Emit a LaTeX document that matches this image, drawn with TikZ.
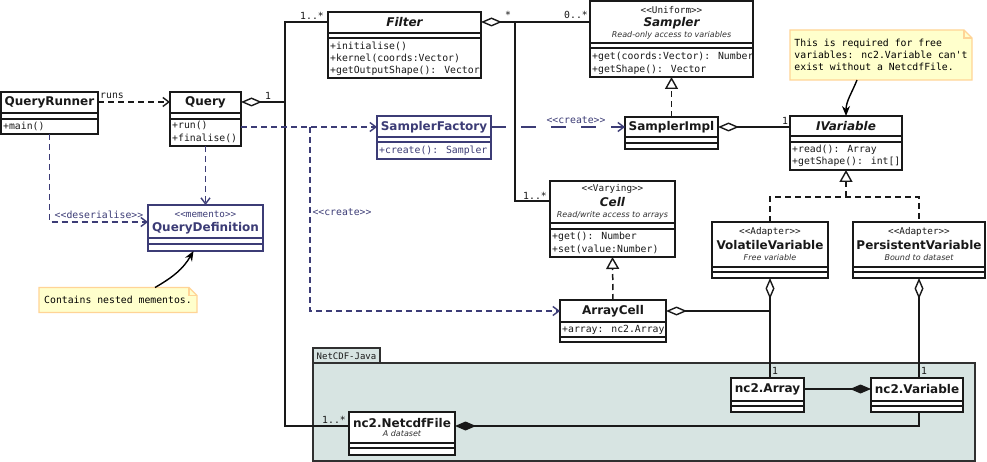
\documentclass[tikz,border=0pt]{standalone}
\usepackage{fontspec}
\setmainfont{DejaVu Sans}
\newfontfamily\monofam{DejaVu Sans Mono}
\usetikzlibrary{arrows.meta,backgrounds,calc}

\definecolor{ink}{RGB}{25,25,25}
\definecolor{umlblue}{RGB}{60,60,118}
\definecolor{notefill}{RGB}{255,255,204}
\definecolor{notedraw}{RGB}{255,212,150}
\definecolor{pkgfill}{RGB}{215,228,226}

\tikzset{
  box/.style={draw=ink, line width=1.5pt, fill=white, inner sep=0pt, outer sep=0pt},
  bbox/.style={box, draw=umlblue},
  sep/.style={draw=ink, line width=1.1pt},
  bsep/.style={draw=umlblue, line width=1.1pt},
  cname/.style={font=\bfseries\fontsize{12}{14}\selectfont, inner sep=0pt, text=ink},
  aname/.style={font=\bfseries\itshape\fontsize{12}{14}\selectfont, inner sep=0pt, text=ink},
  stereo/.style={font=\monofam\fontsize{9.3}{11}\selectfont, inner sep=0pt, text=ink},
  desc/.style={font=\itshape\fontsize{8}{10}\selectfont, inner sep=0pt, text=ink!90},
  member/.style={font=\monofam\fontsize{9.8}{11}\selectfont, inner sep=0pt, anchor=west, text=ink},
  mult/.style={font=\monofam\fontsize{9.8}{11}\selectfont, inner sep=0pt, text=ink},
  assoc/.style={draw=ink, line width=1.5pt},
  aggr/.style={assoc, {Diamond[open, fill=white, length=21pt, width=9pt, line width=1.4pt]}-},
  compos/.style={assoc, -{Diamond[length=21pt, width=9pt]}},
  dep/.style={draw=ink, line width=1.5pt, dash pattern=on 6pt off 4pt,
    -{Straight Barb[length=6pt, width=9pt, line width=1.4pt]}},
  bdep/.style={dep, draw=umlblue},
  bdeplong/.style={bdep, dash pattern=on 15pt off 15pt},
  realline/.style={draw=ink, line width=1.5pt, dash pattern=on 6pt off 4pt},
  real/.style={realline, -{Triangle[open, fill=white, length=12pt, width=13pt, line width=1.4pt]}},
  notebox/.style={inner sep=0pt, outer sep=0pt, align=left,
    font=\monofam\fontsize{9.8}{12.3}\selectfont, text=black},
  noteshape/.style={fill=notefill, draw=notedraw, line width=1.2pt},
  notearrow/.style={draw=black, line width=1.4pt, -{Stealth[length=10pt, width=8pt]}},
}

% a class box from its corners (x1,y1) to (x2,y2), y growing downwards
\newcommand\umlrect[6][box]{%
  \node[#1, minimum width={#4-#2}, minimum height={#5-#3}] (#6)
    at ({(#2+#4)/2},{(#3+#5)/2}) {};}
% a compartment separator inside box #2 at height #3
\newcommand\sepline[3][sep]{\draw[#1] (#2.west |- 0,#3) -- (#2.east |- 0,#3);}

\begin{document}
\begin{tikzpicture}[x=1pt, y=-1pt]
\useasboundingbox (0,0) rectangle (987,462);

% ---------------- classes ----------------
% QueryRunner
\umlrect{1}{92}{98}{134}{qr}
\sepline{qr}{113}\sepline{qr}{119}
\node[cname] (qr-name) at (49.5,102) {QueryRunner};
\node[member] (qr-m1) at (3,126) {+main()};

% Query
\umlrect{170}{92}{241}{146}{q}
\sepline{q}{113}\sepline{q}{119}
\node[cname] (q-name) at (205.5,102) {Query};
\node[member] (q-m1) at (172,125) {+run()};
\node[member] (q-m2) at (172,138) {+finalise()};

% QueryDefinition
\umlrect[bbox]{148}{205}{263}{251}{qd}
\sepline[bsep]{qd}{238}\sepline[bsep]{qd}{244}
\node[stereo, text=umlblue] (qd-st) at (205.5,214) {<{}<memento>{}>};
\node[cname, text=umlblue] (qd-name) at (205.5,228) {QueryDefinition};

% Filter
\umlrect{328}{12}{481}{78}{f}
\sepline{f}{33}\sepline{f}{38}
\node[aname] (f-name) at (404.5,22) {Filter};
\node[member] (f-m1) at (330,46) {+initialise()};
\node[member] (f-m2) at (330,58) {+kernel(coords:Vector)};
\node[member] (f-m3) at (330,71) {+getOutputShape(): Vector};

% Sampler
\umlrect{590}{1}{753}{77}{s}
\sepline{s}{43}\sepline{s}{48}
\node[stereo] (s-st) at (671.5,10) {<{}<Uniform>{}>};
\node[aname] (s-name) at (671.5,23) {Sampler};
\node[desc] (s-desc) at (671.5,35.5) {Read-only access to variables};
\node[member] (s-m1) at (592,57) {+get(coords:Vector): Number};
\node[member] (s-m2) at (592,70) {+getShape(): Vector};

% SamplerFactory
\umlrect[bbox]{377}{116}{491}{159}{sf}
\sepline[bsep]{sf}{137}\sepline[bsep]{sf}{142}
\node[cname, text=umlblue] (sf-name) at (434,127) {SamplerFactory};
\node[member, text=umlblue] (sf-m1) at (379,151) {+create(): Sampler};

% SamplerImpl
\umlrect{625}{117}{718}{149}{si}
\sepline{si}{137}\sepline{si}{143}
\node[cname] (si-name) at (671.5,127) {SamplerImpl};

% IVariable
\umlrect{790}{116}{902}{170}{iv}
\sepline{iv}{136}\sepline{iv}{142}
\node[aname] (iv-name) at (846,126) {IVariable};
\node[member] (iv-m1) at (792,150) {+read(): Array};
\node[member] (iv-m2) at (792,162) {+getShape(): int[]};

% Cell
\umlrect{550}{181}{675}{257}{c}
\sepline{c}{223}\sepline{c}{229}
\node[stereo] (c-st) at (612.5,189) {<{}<Varying>{}>};
\node[aname] (c-name) at (612.5,202) {Cell};
\node[desc] (c-desc) at (612.5,215) {Read/write access to arrays};
\node[member] (c-m1) at (552,237) {+get(): Number};
\node[member] (c-m2) at (552,249) {+set(value:Number)};

% ArrayCell
\umlrect{560}{300}{666}{342}{ac}
\sepline{ac}{322}\sepline{ac}{337}
\node[cname] (ac-name) at (613,311) {ArrayCell};
\node[member] (ac-a1) at (562,330) {+array: nc2.Array};

% VolatileVariable
\umlrect{712}{222}{828}{278}{vv}
\sepline{vv}{267}\sepline{vv}{272}
\node[stereo] (vv-st) at (770,232) {<{}<Adapter>{}>};
\node[cname] (vv-name) at (770,245) {VolatileVariable};
\node[desc] (vv-desc) at (770,258) {Free variable};

% PersistentVariable
\umlrect{853}{222}{985}{278}{pv}
\sepline{pv}{267}\sepline{pv}{272}
\node[stereo] (pv-st) at (919,232) {<{}<Adapter>{}>};
\node[cname] (pv-name) at (919,245) {PersistentVariable};
\node[desc] (pv-desc) at (919,258) {Bound to dataset};

% ---------------- NetCDF-Java package ----------------
\begin{scope}[on background layer]
  \fill[white] (0,0) rectangle (987,462);
  \draw[fill=pkgfill, draw=ink!90, line width=1.3pt] (313,348) rectangle (380,363);
  \draw[fill=pkgfill, draw=ink!90, line width=1.3pt] (313,363) rectangle (975,461);
\end{scope}
\node[stereo, font=\monofam\fontsize{9}{10}\selectfont] (pkg-name) at (346.5,356) {NetCDF-Java};

% nc2.Array
\umlrect{731}{378}{804}{412}{na}
\sepline{na}{401}\sepline{na}{406}
\node[cname] (na-name) at (767.5,389) {nc2.Array};

% nc2.Variable
\umlrect{871}{378}{963}{412}{nv}
\sepline{nv}{401}\sepline{nv}{406}
\node[cname] (nv-name) at (917,389) {nc2.Variable};

% nc2.NetcdfFile
\umlrect{349}{412}{455}{455}{nf}
\sepline{nf}{443}\sepline{nf}{448}
\node[cname] (nf-name) at (402,423) {nc2.NetcdfFile};
\node[desc] (nf-desc) at (402,434) {A dataset};

% ---------------- notes ----------------
\node[notebox, minimum width=182pt, minimum height=50pt] (n1) at (881,55)
  {This is required for free\\variables: nc2.Variable can't\\exist without a NetcdfFile.};
\node[notebox, minimum width=158pt, minimum height=25pt] (n2) at (118,300)
  {Contains nested mementos.};
\begin{scope}[on background layer]
  \foreach \n in {n1,n2}{
    \draw[noteshape] (\n.north west) -- ([xshift=-8pt]\n.north east)
      -- ([yshift=-8pt]\n.north east) -- (\n.south east) -- (\n.south west) -- cycle;
    \draw[draw=notedraw, line width=1.2pt] ([xshift=-8pt]\n.north east)
      |- ([yshift=-8pt]\n.north east);
  }
\end{scope}
\draw[notearrow] ([xshift=-24pt]n1.south) to[out=-112, in=90] (iv.north);
\draw[notearrow] ([xshift=37pt]n2.north) to[out=30, in=240] ([xshift=-12pt]qd.south);

% ---------------- connectors ----------------
% runs
\draw[dep] (qr.east |- qr-name) -- (q.west |- q-name);
\node[mult] (runs) at (112,96) {runs};

% Query owns the filters, which use netCDF files
\coordinate (lt) at (285,22);
\coordinate (lb) at (285,426);
\coordinate (jq) at (285,102);
\draw[aggr] (q.east |- q-name) -- (jq);
\draw[assoc] (f.west |- f-name) -- (lt) -- (lb) -- (nf.west |- lb);
\node[mult] (m-q) at (268,96) {1};
\node[mult] (m-f) at (312,16) {1..*};
\node[mult] (m-nf) at (334,420) {1..*};

% Filter aggregates samplers and cells
\coordinate (jf) at (515,22);
\coordinate (jc) at (515,201);
\draw[aggr] (f.east |- f-name) -- (s.west |- f-name);
\draw[assoc] (jf) -- (jc) -- (c.west |- jc);
\node[mult] (m-fs) at (508,15) {*};
\node[mult] (m-s) at (576,15) {0..*};
\node[mult] (m-c) at (535,196) {1..*};

% realisations
\draw[real] (si.north) -- (s.south);
\draw[real] (ac.north) -- (c.south);
\coordinate (jg) at (846,197);
\draw[realline] (vv.north) |- (jg) -| (pv.north);
\draw[real] (jg) -- (iv.south);

% SamplerImpl -> IVariable
\draw[aggr] (si.east |- si-name) -- (iv.west |- si-name);
\node[mult] (m-iv) at (785,121) {1};

% adapters and arrays
\draw[aggr] (ac.east |- ac-name) -- (vv.south |- ac-name);
\draw[aggr] (vv.south) -- (vv.south |- na.north);
\draw[aggr] (pv.south) -- (pv.south |- nv.north);
\node[mult] (m-na) at (775,371) {1};
\node[mult] (m-nv) at (924,371) {1};
\draw[compos] (na.east |- na-name) -- (nv.west |- na-name);
\draw[compos] (pv.south |- nv.south) |- (nf.east |- lb);

% creation and serialisation dependencies
\coordinate (jb) at (310,127);
\draw[bdep] (q.east |- sf-name) -- (sf.west |- sf-name);
\draw[bdep] (jb) |- (ac.west |- ac-name);
\node[mult, text=umlblue] (cr1) at (342,212) {<{}<create>{}>};
\draw[bdeplong] (sf.east |- sf-name) -- (si.west |- sf-name);
\node[mult, text=umlblue] (cr2) at (576,120) {<{}<create>{}>};
\draw[bdep] (q.south) -- (qd.north);
\draw[bdep] (qr.south) |- ([yshift=6pt]qd.west);
\node[mult, text=umlblue] (des) at (99,215) {<{}<deserialise>{}>};

\end{tikzpicture}
\end{document}
